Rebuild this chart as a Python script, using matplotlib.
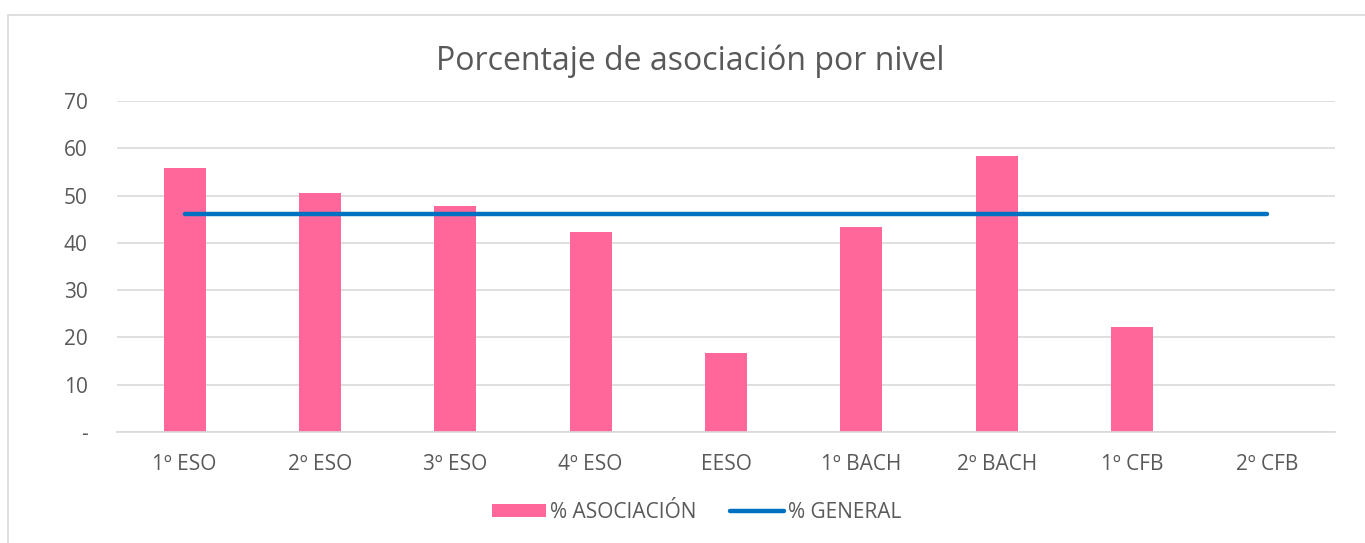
import matplotlib
matplotlib.use("Agg")
import matplotlib.pyplot as plt
from matplotlib.patches import Rectangle
import numpy as np

categories = ["1º ESO", "2º ESO", "3º ESO", "4º ESO", "EESO", "1º BACH", "2º BACH", "1º CFB", "2º CFB"]
asociacion = [55.9, 50.6, 47.7, 42.2, 16.7, 43.3, 58.4, 22.2, 0]
general = [46.1] * len(categories)
yticks = [0, 10, 20, 30, 40, 50, 60, 70]
ytick_labels = ["-", "10", "20", "30", "40", "50", "60", "70"]

plt.rcParams['font.family'] = ['Open Sans', 'DejaVu Sans']
text_color = "#595959"
grid_color = "#d9d9d9"

fig = plt.figure(figsize=(13.65, 5.43), dpi=100)
ax = fig.add_axes([117/1365, 1 - 432/543, (1335-117)/1365, (432-101)/543])

x = np.arange(len(categories))
bars = ax.bar(x, asociacion, width=0.31, color="#FF6699", label="% ASOCIACIÓN", zorder=2)
line, = ax.plot(x, general, color="#0070C0", lw=3.2, solid_capstyle="round", label="% GENERAL", zorder=3)

ax.set_xlim(-0.5, len(categories) - 0.5)
ax.set_ylim(0, 70)
ax.set_yticks(yticks)
ax.set_yticklabels(ytick_labels)
ax.set_xticks(x)
ax.set_xticklabels(categories)
ax.tick_params(axis="both", length=0, colors=text_color, labelsize=15)
ax.tick_params(axis="y", pad=21)
ax.tick_params(axis="x", pad=16)
ax.grid(axis="y", color=grid_color, lw=1.2, zorder=0)
ax.set_axisbelow(True)
for s in ["top", "right", "left"]:
    ax.spines[s].set_visible(False)
ax.spines["bottom"].set_color(grid_color)
ax.spines["bottom"].set_linewidth(1.2)

fig.text(690/1365, 1 - 61/543, "Porcentaje de asociación por nivel", ha="center", va="center",
         fontsize=23, color=text_color)

fig.legend([bars, line], ["% ASOCIACIÓN", "% GENERAL"],
           loc="center", bbox_to_anchor=(697/1365, 1 - 512/543), ncol=2, frameon=False,
           fontsize=15, labelcolor=text_color, handlelength=2.6, columnspacing=1.6,
           handletextpad=0.2, handleheight=0.6)

# chart border
fig.patches.append(Rectangle((8/1365, -0.1), 1.2, 1 - 15/543 + 0.1, transform=fig.transFigure,
                             fill=False, edgecolor=grid_color, lw=1.2))

fig.savefig("out.png", dpi=100)
